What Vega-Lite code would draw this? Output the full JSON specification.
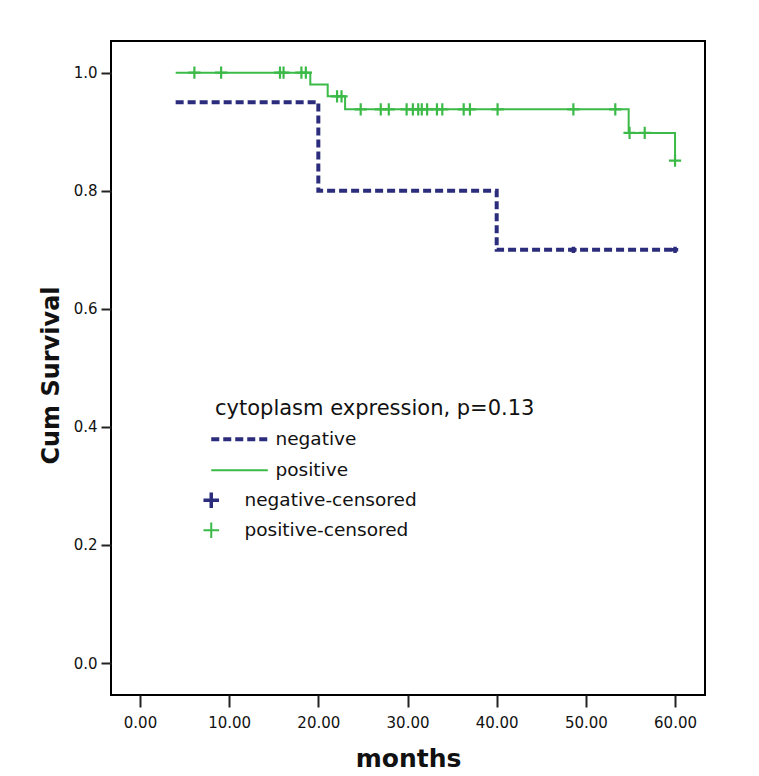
{
  "$schema": "https://vega.github.io/schema/vega-lite/v6.json",
  "autosize": "none",
  "width": 594,
  "height": 654,
  "padding": {"left": 111, "top": 41, "right": 54, "bottom": 81},
  "background": "white",
  "config": {
    "view": {"stroke": "black", "strokeWidth": 2},
    "font": "DejaVu Sans",
    "axis": {"labelFont": "DejaVu Sans", "titleFont": "DejaVu Sans", "labelColor": "#111", "titleColor": "#111", "domain": false, "grid": false, "tickColor": "#222", "tickWidth": 2}
  },
  "datasets": {
    "curves": [
      {"group": "negative", "month": 4, "surv": 0.95},
      {"group": "negative", "month": 20, "surv": 0.8},
      {"group": "negative", "month": 40, "surv": 0.7},
      {"group": "negative", "month": 60, "surv": 0.7},
      {"group": "positive", "month": 4, "surv": 1.0},
      {"group": "positive", "month": 19.1, "surv": 0.98},
      {"group": "positive", "month": 21.05, "surv": 0.96},
      {"group": "positive", "month": 23.0, "surv": 0.938},
      {"group": "positive", "month": 54.8, "surv": 0.898},
      {"group": "positive", "month": 60, "surv": 0.851}
    ],
    "censored": [
      {"group": "positive-censored", "month": 6.1, "surv": 1.0},
      {"group": "positive-censored", "month": 9.1, "surv": 1.0},
      {"group": "positive-censored", "month": 15.7, "surv": 1.0},
      {"group": "positive-censored", "month": 16.1, "surv": 1.0},
      {"group": "positive-censored", "month": 18.1, "surv": 1.0},
      {"group": "positive-censored", "month": 18.6, "surv": 1.0},
      {"group": "positive-censored", "month": 22.1, "surv": 0.96},
      {"group": "positive-censored", "month": 22.6, "surv": 0.96},
      {"group": "positive-censored", "month": 24.75, "surv": 0.938},
      {"group": "positive-censored", "month": 27.0, "surv": 0.938},
      {"group": "positive-censored", "month": 27.9, "surv": 0.938},
      {"group": "positive-censored", "month": 29.9, "surv": 0.938},
      {"group": "positive-censored", "month": 30.6, "surv": 0.938},
      {"group": "positive-censored", "month": 31.2, "surv": 0.938},
      {"group": "positive-censored", "month": 31.6, "surv": 0.938},
      {"group": "positive-censored", "month": 32.2, "surv": 0.938},
      {"group": "positive-censored", "month": 33.3, "surv": 0.938},
      {"group": "positive-censored", "month": 33.9, "surv": 0.938},
      {"group": "positive-censored", "month": 36.3, "surv": 0.938},
      {"group": "positive-censored", "month": 37.0, "surv": 0.938},
      {"group": "positive-censored", "month": 40.1, "surv": 0.938},
      {"group": "positive-censored", "month": 48.6, "surv": 0.938},
      {"group": "positive-censored", "month": 53.3, "surv": 0.938},
      {"group": "positive-censored", "month": 54.9, "surv": 0.898},
      {"group": "positive-censored", "month": 56.6, "surv": 0.898},
      {"group": "positive-censored", "month": 60, "surv": 0.851},
      {"group": "negative-censored", "month": 48.6, "surv": 0.7},
      {"group": "negative-censored", "month": 60, "surv": 0.7}
    ]
  },
  "encoding": {
    "x": {"field": "month", "type": "quantitative",
      "scale": {"domain": [-3.25, 63.36], "nice": false, "zero": false},
      "axis": {"values": [0, 10, 20, 30, 40, 50, 60], "format": ".2f", "labelFontSize": 15, "tickSize": 12, "labelPadding": 8, "title": "months", "titleFontSize": 25, "titleFontWeight": "bold", "titlePadding": 16}},
    "y": {"field": "surv", "type": "quantitative",
      "scale": {"domain": [-0.0542, 1.0537], "nice": false, "zero": false},
      "axis": {"values": [0, 0.2, 0.4, 0.6, 0.8, 1.0], "format": ".1f", "labelFontSize": 15, "tickSize": 10, "labelPadding": 4, "title": "Cum Survival", "titleFontSize": 24, "titleFontWeight": "bold", "titlePadding": 10, "titleY": 334}}
  },
  "layer": [
    {
      "data": {"name": "curves"},
      "transform": [{"filter": "datum.group === 'negative'"}],
      "mark": {"type": "line", "interpolate": "step-after", "strokeWidth": 4, "strokeDash": [8, 4]},
      "encoding": {
        "color": {"field": "group", "type": "nominal",
          "scale": {"domain": ["negative", "positive", "negative-censored", "positive-censored"], "range": ["#2b2d7c", "#3cba48", "#2b2d7c", "#3cba48"]},
          "legend": {
            "title": "cytoplasm expression, p=0.13",
            "orient": "none", "legendX": 104, "legendY": 357, "padding": 0,
            "titleFontSize": 21, "titleFontWeight": "normal", "titleFont": "DejaVu Sans", "titleColor": "#111", "titlePadding": 11, "titleLimit": 600,
            "labelFontSize": 18.5, "labelFont": "DejaVu Sans", "labelColor": "#111", "labelLimit": 400,
            "symbolSize": 200, "symbolOffset": -13, "labelOffset": 55, "rowPadding": 2,
            "encode": {
              "symbols": {"update": {
                "shape": {"signal": "indexof(datum.value,'censored')>=0 ? 'M-1.1,0H1.1M0,-1.1V1.1' : 'M0,-1.1M0,1.1M0,0H8'"},
                "strokeDash": {"signal": "datum.value==='negative' ? [8,4] : [1,0]"},
                "strokeWidth": {"signal": "datum.value==='negative' ? 4 : (datum.value==='negative-censored' ? 3.5 : 2)"},
                "fill": {"value": "transparent"}
              }},
              "labels": {"update": {"dx": {"signal": "indexof(datum.label,'censored')>=0 ? -31 : 0"}}}
            }
          }}
      }
    },
    {
      "data": {"name": "curves"},
      "transform": [{"filter": "datum.group === 'positive'"}],
      "mark": {"type": "line", "interpolate": "step-after", "strokeWidth": 2},
      "encoding": {"color": {"field": "group", "type": "nominal"}}
    },
    {
      "data": {"name": "censored"},
      "transform": [{"filter": "datum.group === 'positive-censored'"}],
      "mark": {"type": "point", "shape": "M-1,0H1M0,-1V1", "filled": false, "strokeWidth": 2.2, "size": 150, "opacity": 1},
      "encoding": {"color": {"field": "group", "type": "nominal"}}
    },
    {
      "data": {"name": "censored"},
      "transform": [{"filter": "datum.group === 'negative-censored'"}],
      "mark": {"type": "point", "shape": "M-1,0H1M0,-1V1", "filled": false, "strokeWidth": 3.5, "size": 40, "opacity": 1},
      "encoding": {"color": {"field": "group", "type": "nominal"}}
    }
  ]
}
